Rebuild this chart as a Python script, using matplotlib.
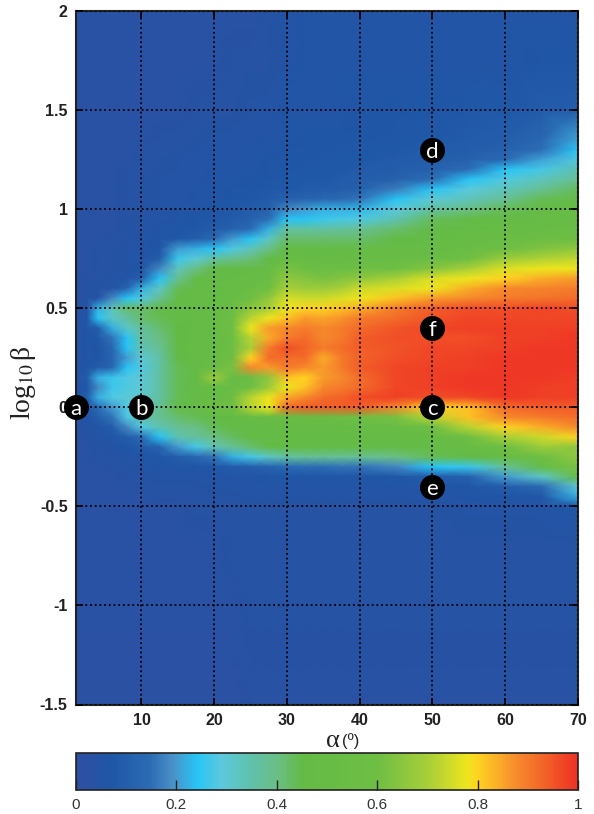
import matplotlib
matplotlib.use("Agg")
import matplotlib.pyplot as plt
import numpy as np
from matplotlib.colors import LinearSegmentedColormap

plt.rcParams['font.family'] = ['Liberation Sans', 'DejaVu Sans']
plt.rcParams['axes.unicode_minus'] = False

alpha_grid = [1, 2.5, 4, 6, 8, 10, 12.5, 15, 17.5, 20, 22.5, 25, 27.5, 30, 32.5, 35, 37.5, 40, 45, 50, 55, 60, 65, 70]
beta_grid = [2.0, 1.75, 1.5, 1.35, 1.3, 1.25, 1.2, 1.15, 1.1, 1.05, 1.0, 0.95, 0.9, 0.85, 0.8, 0.75, 0.7, 0.65, 0.6, 0.55, 0.5,
             0.45, 0.4, 0.35, 0.3, 0.25, 0.2, 0.15, 0.1, 0.05, 0.0, -0.05, -0.1, -0.15, -0.2, -0.25, -0.3, -0.35, -0.4, -0.45, -0.5, -0.7, -1.0, -1.5]
# fraction in percent, one row per beta value, one column per alpha value
percent = [
[3,3,3,3,3,3,3,3,3,3,3,3,4,5,6,6,6,6,6,6,6,6,6,6],
[3,3,3,3,3,3,3,3,3,3,4,4,4,5,6,6,6,6,6,6,6,6,7,7],
[3,3,3,3,3,3,3,3,4,4,4,5,5,6,6,6,6,7,7,7,8,8,9,10],
[3,3,3,3,3,3,4,4,4,5,5,5,6,6,7,7,7,7,8,8,9,10,13,21],
[3,3,3,3,3,4,4,4,5,5,5,6,6,7,7,7,8,8,8,9,10,11,15,24],
[3,3,3,3,3,4,4,5,5,5,6,6,7,7,7,8,8,8,9,10,11,14,21,28],
[3,3,3,3,4,4,4,5,5,6,6,6,7,7,8,8,8,9,10,11,15,24,27,34],
[3,3,3,3,4,4,5,5,5,6,6,7,7,8,8,8,9,10,11,15,24,28,33,38],
[3,3,3,3,4,4,5,5,6,6,7,7,8,8,9,9,10,11,17,24,29,33,38,43],
[3,3,3,3,4,4,5,5,6,6,7,8,9,11,12,13,14,16,24,30,33,38,44,47],
[3,3,3,3,4,4,5,6,6,7,8,9,11,18,20,22,22,23,29,36,40,44,47,50],
[3,3,3,3,4,5,5,6,7,8,9,11,15,24,24,26,27,28,34,43,46,47,50,52],
[3,3,3,3,4,5,6,7,8,9,11,14,22,36,36,36,37,38,42,46,48,50,52,54],
[3,3,3,4,4,5,6,8,10,14,20,24,32,42,42,42,42,42,45,48,50,54,57,60],
[3,3,4,4,5,5,7,20,22,24,28,33,40,46,46,46,47,50,50,50,54,60,63,66],
[3,3,4,4,5,6,9,26,30,36,39,41,45,50,50,50,50,52,53,55,60,68,71,73],
[3,3,4,4,5,7,18,33,40,45,46,47,50,62,58,56,56,60,60,64,70,76,78,78],
[3,4,4,5,6,10,24,38,46,47,49,50,53,66,64,62,64,66,70,76,78,80,84,86],
[3,4,5,5,12,22,32,44,47,48,50,55,60,70,68,68,70,74,76,78,84,88,89,90],
[3,4,5,18,24,28,38,46,47,48,52,60,66,75,74,74,76,78,82,86,88,90,91,92],
[3,5,22,33,42,42,46,46,47,50,55,65,70,78,80,80,82,84,90,94,96,96,97,96],
[4,6,24,32,36,42,44,46,47,50,58,72,78,82,86,85,87,90,92,95,97,97,97,97],
[5,6,9,22,32,37,42,45,47,50,60,78,86,88,90,88,90,92,95,97,98,98,98,98],
[5,6,8,16,24,36,40,45,47,49,58,72,84,90,92,88,90,94,96,96,96,98,98,99],
[5,6,7,13,24,34,38,45,47,49,58,70,90,96,93,90,92,94,95,97,97,98,99,99],
[5,6,7,12,20,30,36,45,47,50,60,80,92,92,92,84,90,93,96,97,98,99,99,99],
[5,6,9,13,24,28,36,44,47,55,62,88,86,90,88,86,90,94,97,98,98,99,99,99],
[5,9,22,26,28,30,36,44,46,68,52,55,66,82,80,86,88,92,97,98,99,99,99,98],
[5,7,18,26,28,30,36,44,46,48,52,60,68,78,82,88,90,92,97,98,99,99,98,98],
[5,9,22,28,30,32,36,44,47,50,58,72,78,85,88,92,93,96,98,96,97,99,98,98],
[4,8,14,20,28,32,38,46,48,58,60,72,78,92,94,94,94,94,88,80,82,92,94,94],
[3,5,10,16,28,34,38,42,44,45,46,50,50,52,55,55,58,60,62,72,82,88,90,92],
[3,4,6,10,18,28,34,38,40,44,46,46,46,47,47,47,48,50,50,60,72,80,84,88],
[3,4,5,7,10,14,24,34,37,40,43,46,46,46,46,46,46,47,47,50,58,70,74,80],
[3,3,4,5,7,9,12,20,27,34,38,42,45,46,46,46,46,46,46,48,50,60,68,66],
[3,3,4,4,5,6,8,10,13,16,22,27,32,36,38,38,38,38,40,44,46,50,60,66],
[3,3,3,4,4,5,6,6,7,8,9,10,12,14,15,15,16,16,18,24,26,38,48,62],
[3,3,3,3,4,4,5,5,5,6,6,6,7,7,7,7,7,7,8,9,11,20,32,50],
[3,3,3,3,3,4,4,4,4,5,5,5,5,5,5,5,5,5,6,6,7,10,14,30],
[3,3,3,3,3,3,4,4,4,4,4,5,5,5,5,5,5,5,5,5,6,7,8,22],
[3,3,3,3,3,3,3,3,4,4,4,4,4,4,4,4,4,4,4,4,5,5,5,8],
[3,3,3,3,3,3,3,3,3,3,4,4,4,4,4,4,4,4,4,4,4,4,4,4],
[3,3,3,3,3,3,3,3,3,3,3,4,4,4,4,4,4,4,4,4,4,4,4,4],
[2,2,2,2,2,2,2,2,2,2,2,3,3,3,3,3,3,3,3,3,3,3,3,3],
]

marker_labels = ['a', 'b', 'c', 'd', 'e', 'f']
marker_alpha = [1, 10, 50, 50, 50, 50]
marker_beta = [0, 0, 0, 1.3, -0.4, 0.4]

x_ticks = [10, 20, 30, 40, 50, 60, 70]
y_ticks = [-1.5, -1, -0.5, 0, 0.5, 1, 1.5, 2]
y_tick_labels = ['-1.5', '-1', '-0.5', '0', '0.5', '1', '1.5', '2']
cbar_ticks = [0, 0.2, 0.4, 0.6, 0.8, 1]
cbar_tick_labels = ['0', '0.2', '0.4', '0.6', '0.8', '1']

cmap = LinearSegmentedColormap.from_list('map', [
    (0.00, '#2F4FA2'), (0.07, '#1F56A6'), (0.15, '#2D6DB5'), (0.19, '#4A8FC6'),
    (0.24, '#27C5F6'), (0.29, '#5CC9DC'), (0.35, '#60C1AA'), (0.40, '#6BBF85'),
    (0.45, '#63BB46'), (0.60, '#6EBE44'), (0.70, '#A6CE39'), (0.78, '#EDE51E'),
    (0.80, '#FFD322'), (0.88, '#F68B2C'), (1.00, '#EE3124')])

W, H = 594, 814
fig = plt.figure(figsize=(W / 100, H / 100), dpi=100)
ax = fig.add_axes([76 / W, 1 - 704.5 / H, 502 / W, 693.5 / H])

values = np.array(percent) / 100
mesh = ax.pcolormesh(alpha_grid, beta_grid, values, cmap=cmap, vmin=0, vmax=1, shading='gouraud')
ax.set_xlim(1, 70)
ax.set_ylim(-1.5, 2)
ax.set_xticks(x_ticks)
ax.set_yticks(y_ticks)
ax.set_yticklabels(y_tick_labels)
ax.grid(True, color='black', linestyle=(0, (1, 1.6)), linewidth=1.3)
ax.set_axisbelow(False)
ax.tick_params(direction='in', length=5, width=1.2, top=True, right=True, pad=6,
               labelsize=11.5, labelcolor='#222222')
for lab in ax.get_xticklabels() + ax.get_yticklabels():
    lab.set_fontweight('bold')
for s in ax.spines.values():
    s.set_linewidth(1.5)
    s.set_color('#222222')

for lab, a, b in zip(marker_labels, marker_alpha, marker_beta):
    ax.plot([a], [b], 'o', ms=18, color='black', mec='none', clip_on=False, zorder=5)
    ax.text(a, b, lab, color='white', ha='center', va='center_baseline', fontsize=16,
            family=['Lato', 'DejaVu Sans'], clip_on=False, zorder=6)

fig.text(340 / W, 1 - 741 / H, 'α', family=['Liberation Serif', 'DejaVu Serif'], fontsize=19, ha='right', va='center', color='#222222')
fig.text(342 / W, 1 - 741 / H, '(º)', family=['Liberation Sans'], fontsize=12, ha='left', va='center', color='#222222')
fig.text(24 / W, 1 - 383 / H, r'log$_{10}\,$β', family=['Liberation Serif', 'DejaVu Serif'], fontsize=20,
         rotation=90, ha='center', va='center', color='#222222', math_fontfamily='stix')

cax = fig.add_axes([76 / W, 1 - 790 / H, 502 / W, 37 / H])
cb = fig.colorbar(mesh, cax=cax, orientation='horizontal')
cb.set_ticks(cbar_ticks)
cb.set_ticklabels(cbar_tick_labels)
cax.tick_params(direction='in', length=7, width=1, pad=6, labelsize=11, labelcolor='#333333', color='#222222')
cb.outline.set_linewidth(1.2)
cb.outline.set_edgecolor('#222222')

fig.savefig('out.png', dpi=100)
